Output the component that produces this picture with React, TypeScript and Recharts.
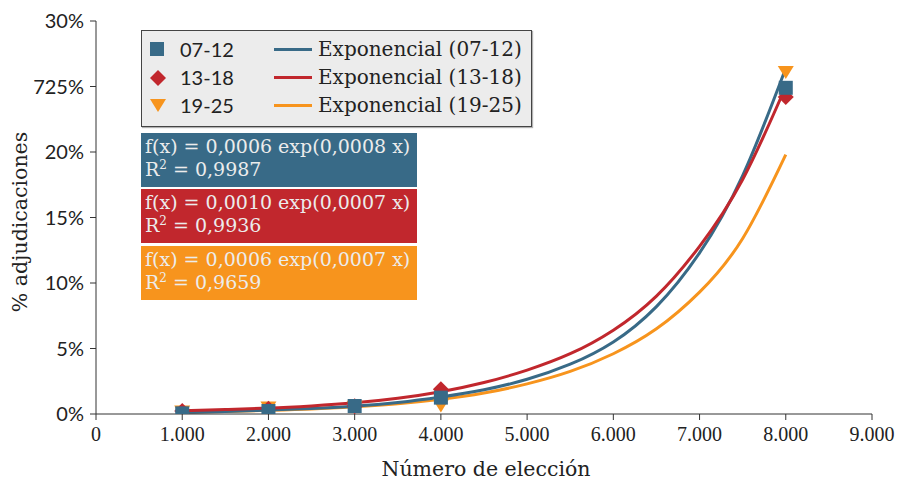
import React from 'react';
import { ComposedChart, Line, Scatter, XAxis, YAxis, Label } from 'recharts';

// Observed points (x = número de elección, y = % adjudicaciones)
const pointX = [1000, 2000, 3000, 4000, 8000];
const s0712 = [0.05, 0.23, 0.61, 1.25, 24.9];
const s1318 = [0.23, 0.4, 0.6, 1.88, 24.2];
const s1925 = [0.2, 0.5, 0.55, 0.65, 26.1];

// Trend curves
const trendX = [1000, 1500, 2000, 2500, 3000, 3500, 4000, 4500, 5000, 5500, 6000, 6500, 7000, 7500, 8000];
const trend0712 = [0.13, 0.19, 0.3, 0.42, 0.6, 0.88, 1.3, 1.85, 2.65, 3.8, 5.5, 8.2, 12.3, 18.2, 26.4];
const trend1318 = [0.25, 0.34, 0.45, 0.62, 0.85, 1.2, 1.7, 2.4, 3.35, 4.6, 6.4, 9.0, 12.8, 17.9, 25.0];
const trend1925 = [0.15, 0.2, 0.28, 0.38, 0.55, 0.78, 1.12, 1.6, 2.3, 3.25, 4.6, 6.5, 9.3, 13.4, 19.8];

const xTicks = [0, 1000, 2000, 3000, 4000, 5000, 6000, 7000, 8000, 9000];
const xTickLabels = ['0', '1.000', '2.000', '3.000', '4.000', '5.000', '6.000', '7.000', '8.000', '9.000'];
const yTicks = [0, 5, 10, 15, 20, 25, 30];
const yTickLabels = ['0%', '5%', '10%', '15%', '20%', '725%', '30%'];

const seriesNames = ['07-12', '13-18', '19-25'];
const trendNames = ['Exponencial (07-12)', 'Exponencial (13-18)', 'Exponencial (19-25)'];
const equations = ['f(x) = 0,0006 exp(0,0008 x)', 'f(x) = 0,0010 exp(0,0007 x)', 'f(x) = 0,0006 exp(0,0007 x)'];
const r2Values = ['0,9987', '0,9936', '0,9659'];

const BLUE = '#386a87';
const RED = '#c1272d';
const ORANGE = '#f7941d';
const colors = [BLUE, RED, ORANGE];

const toPoints = (xs: number[], ys: number[]) => xs.map((x, i) => ({ x, y: ys[i] }));

const Square = (p: any) => <rect x={p.cx - 7} y={p.cy - 7} width={14} height={14} fill={BLUE} />;
const Diamond = (p: any) => (
  <polygon points={`${p.cx},${p.cy - 8} ${p.cx + 8},${p.cy} ${p.cx},${p.cy + 8} ${p.cx - 8},${p.cy}`} fill={RED} />
);
const TriDown = (p: any) => (
  <polygon points={`${p.cx - 8},${p.cy - 6} ${p.cx + 8},${p.cy - 6} ${p.cx},${p.cy + 7}`} fill={ORANGE} />
);

const markerIcons = [
  <svg width={16} height={16} key="a"><rect x={1} y={1} width={14} height={14} fill={BLUE} /></svg>,
  <svg width={18} height={18} key="b"><polygon points="9,1 17,9 9,17 1,9" fill={RED} /></svg>,
  <svg width={18} height={16} key="c"><polygon points="1,2 17,2 9,15" fill={ORANGE} /></svg>,
];

export default function App() {
  const serif = '"DejaVu Serif", serif';
  return (
    <div style={{ position: 'absolute', left: 0, top: 0, width: 902, height: 483, background: '#fff' }}>
      <ComposedChart width={902} height={483} margin={{ top: 21, right: 30, bottom: 0, left: 0 }}>
        <XAxis
          type="number"
          dataKey="x"
          domain={[0, 9000]}
          ticks={xTicks}
          tickFormatter={(v: number) => xTickLabels[xTicks.indexOf(v)]}
          height={69}
          tickSize={6}
          tickMargin={7}
          stroke="#333"
          tick={{ fill: '#222', fontFamily: '"Liberation Serif", serif', fontSize: 20 }}
          allowDataOverflow
        >
          <Label
            content={() => (
              <text x={486} y={476} textAnchor="middle" fontFamily={serif} fontSize={20.5} fill="#222">
                Número de elección
              </text>
            )}
          />
        </XAxis>
        <YAxis
          type="number"
          dataKey="y"
          domain={[0, 30]}
          ticks={yTicks}
          tickFormatter={(v: number) => yTickLabels[yTicks.indexOf(v)]}
          width={96}
          tickSize={6}
          tickMargin={6}
          stroke="#333"
          tick={{ fill: '#222', fontFamily: 'Lato, sans-serif', fontSize: 20 }}
          allowDataOverflow
        >
          <Label
            content={() => (
              <text
                x={0}
                y={0}
                transform="translate(27,222) rotate(-90)"
                textAnchor="middle"
                fontFamily={serif}
                fontSize={20.5}
                fill="#222"
              >
                % adjudicaciones
              </text>
            )}
          />
        </YAxis>
        <Scatter data={toPoints(pointX, s1925)} dataKey="y" shape={TriDown} isAnimationActive={false} />
        <Scatter data={toPoints(pointX, s1318)} dataKey="y" shape={Diamond} isAnimationActive={false} />
        <Line data={toPoints(trendX, trend1925)} dataKey="y" type="natural" stroke={ORANGE} strokeWidth={3} dot={false} isAnimationActive={false} />
        <Line data={toPoints(trendX, trend0712)} dataKey="y" type="natural" stroke={BLUE} strokeWidth={3} dot={false} isAnimationActive={false} />
        <Line data={toPoints(trendX, trend1318)} dataKey="y" type="natural" stroke={RED} strokeWidth={3} dot={false} isAnimationActive={false} />
        <Scatter data={toPoints(pointX, s0712)} dataKey="y" shape={Square} isAnimationActive={false} />
      </ComposedChart>

      {/* Legend */}
      <div
        style={{
          position: 'absolute',
          left: 141,
          top: 30,
          width: 389,
          height: 95,
          background: '#ececec',
          border: '1px solid #444',
          boxShadow: '1px 1px 1px rgba(0,0,0,0.3)',
        }}
      >
        {seriesNames.map((name, i) => (
          <div key={name} style={{ position: 'absolute', left: 0, top: 5 + i * 28, height: 26, width: 389 }}>
            <div style={{ position: 'absolute', left: 7, top: 5 }}>{markerIcons[i]}</div>
            <div style={{ position: 'absolute', left: 38, top: 0, fontFamily: 'Lato, sans-serif', fontSize: 20, lineHeight: '26px', color: '#222' }}>
              {name}
            </div>
            <div style={{ position: 'absolute', left: 132, top: 12, width: 38, height: 3, background: colors[i] }} />
            <div style={{ position: 'absolute', left: 176, top: 0, fontFamily: serif, fontSize: 20, lineHeight: '26px', color: '#222', whiteSpace: 'nowrap' }}>
              {trendNames[i]}
            </div>
          </div>
        ))}
      </div>

      {/* Equation boxes */}
      {equations.map((eq, i) => (
        <div
          key={eq + i}
          style={{
            position: 'absolute',
            left: 141,
            top: [133, 189, 246][i],
            width: 276,
            height: 54,
            background: colors[i],
            color: '#ececec',
            fontFamily: serif,
            fontSize: 19,
            lineHeight: '23px',
            paddingLeft: 4,
            paddingTop: 2,
            boxSizing: 'border-box',
            whiteSpace: 'nowrap',
          }}
        >
          <div>{eq}</div>
          <div>
            R<sup style={{ fontSize: 12, verticalAlign: 'super', lineHeight: 0 }}>2</sup> = {r2Values[i]}
          </div>
        </div>
      ))}
    </div>
  );
}
